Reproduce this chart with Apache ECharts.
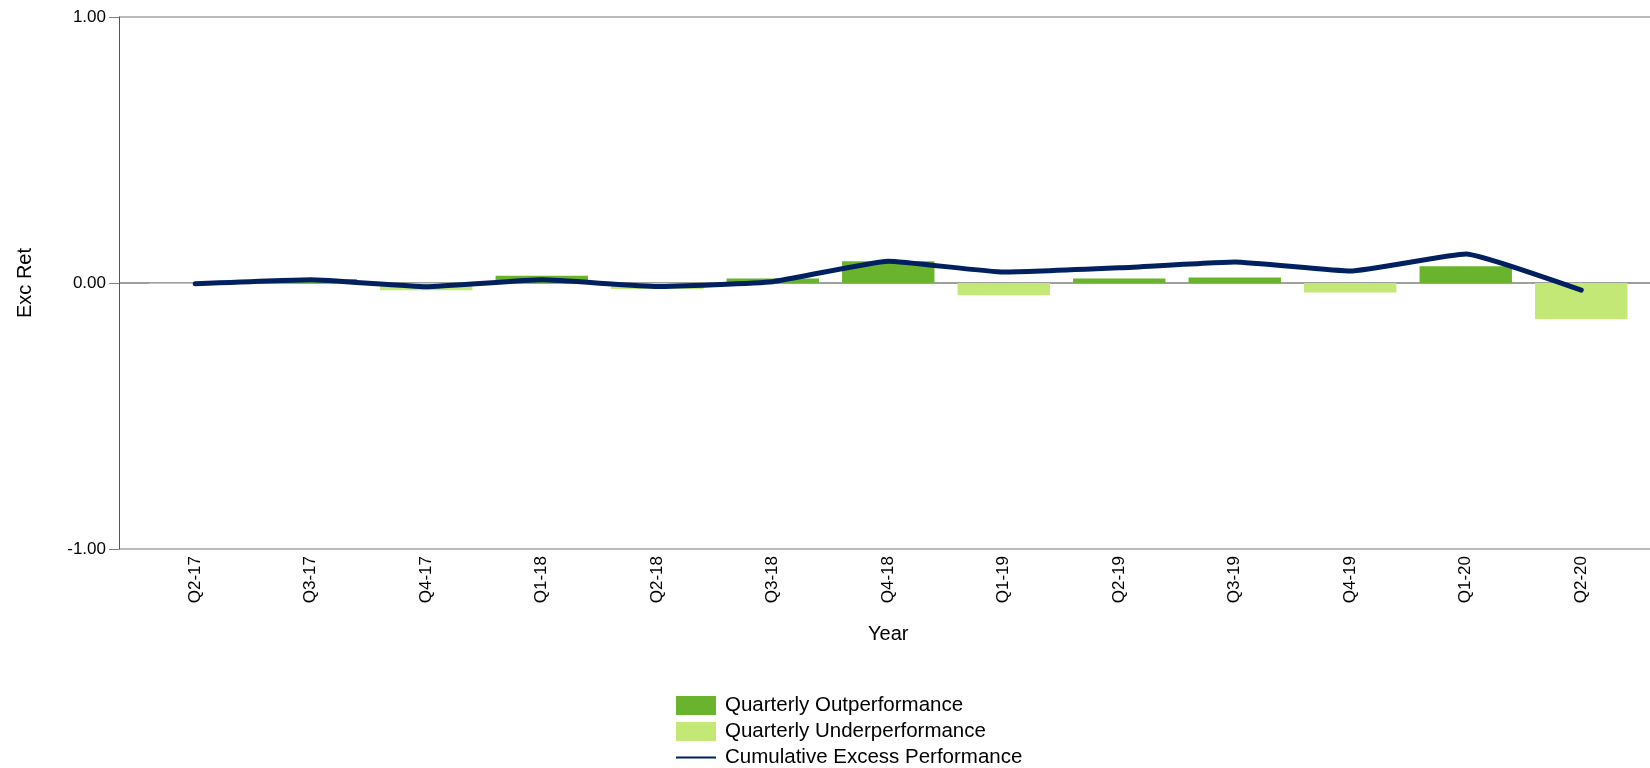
<!DOCTYPE html>
<html>
<head>
<meta charset="utf-8">
<script src="https://cdn.jsdelivr.net/npm/echarts@6/dist/echarts.min.js"></script>
<style>
html,body{margin:0;padding:0;background:#fff;}
#chart{width:1650px;height:768px;}
</style>
</head>
<body>
<div id="chart"></div>
<script>
const categories = ['Q2-17','Q3-17','Q4-17','Q1-18','Q2-18','Q3-18','Q4-18','Q1-19','Q2-19','Q3-19','Q4-19','Q1-20','Q2-20'];
const outperformance = [null, 0.015, null, 0.027, null, 0.017, 0.082, null, 0.017, 0.021, null, 0.063, null];
const underperformance = [-0.003, null, -0.027, null, -0.023, null, null, -0.046, null, null, -0.036, null, -0.135];
const cumulative = [-0.003, 0.012, -0.014, 0.012, -0.013, 0.005, 0.082, 0.041, 0.057, 0.079, 0.045, 0.109, -0.027];
const yTicks = [-1, 0, 1];

const FONT = '"Liberation Sans", Arial, sans-serif';
const chart = echarts.init(document.getElementById('chart'), null, {renderer: 'canvas'});
const toData = arr => arr.map(v => v === null ? '-' : v);

chart.setOption({
  animation: false,
  backgroundColor: '#ffffff',
  textStyle: {fontFamily: FONT, color: '#000'},
  grid: [
    {left: 119, right: 0, top: 17, bottom: 219, containLabel: false},
    {left: 137.5, right: 11, top: 17, bottom: 219, containLabel: false}
  ],
  xAxis: [
    {gridIndex: 0, type: 'value', min: 0, max: 1, show: false},
    {
      gridIndex: 1, type: 'category', data: categories, boundaryGap: true,
      axisLine: {show: false}, axisTick: {show: false},
      axisLabel: {rotate: 90, margin: 7, fontSize: 17, color: '#000', fontFamily: FONT, interval: 0},
      name: 'Year', nameLocation: 'middle', nameGap: 75,
      nameTextStyle: {fontSize: 20, color: '#000', fontFamily: FONT}
    }
  ],
  yAxis: [
    {
      gridIndex: 0, type: 'value', min: yTicks[0], max: yTicks[yTicks.length - 1], interval: 1,
      axisLine: {show: true, lineStyle: {color: '#555', width: 1}},
      axisTick: {show: true, length: 10, lineStyle: {color: '#808080'}},
      axisLabel: {margin: 13, fontSize: 17, color: '#000', fontFamily: FONT, formatter: v => v.toFixed(2)},
      splitLine: {show: true, lineStyle: {color: ['#a6a6a6', '#7f7f7f', '#a6a6a6'], width: 1.5}},
      name: 'Exc Ret', nameLocation: 'middle', nameGap: 84,
      nameTextStyle: {fontSize: 20, color: '#000', fontFamily: FONT}
    },
    {gridIndex: 1, type: 'value', min: -1, max: 1, show: false, splitLine: {show: false}}
  ],
  legend: {
    orient: 'vertical', left: 676, top: 695, height: 73, padding: 0,
    itemWidth: 40, itemHeight: 19, itemGap: 5,
    textStyle: {fontSize: 20.5, lineHeight: 20, color: '#000', fontFamily: FONT, padding: [0, 0, 0, 4]},
    data: [
      {name: 'Quarterly Outperformance', icon: 'rect'},
      {name: 'Quarterly Underperformance', icon: 'rect'},
      {name: 'Cumulative Excess Performance', icon: 'path://M0,0 L40,0 L40,2 L0,2 Z', itemStyle: {color: '#002060'}}
    ]
  },
  series: [
    {
      name: 'Quarterly Outperformance', type: 'bar', xAxisIndex: 1, yAxisIndex: 1,
      stack: 'q', barWidth: '80%', data: toData(outperformance),
      itemStyle: {color: '#6ab42d'}
    },
    {
      name: 'Quarterly Underperformance', type: 'bar', xAxisIndex: 1, yAxisIndex: 1,
      stack: 'q', barWidth: '80%', data: toData(underperformance),
      itemStyle: {color: '#c3e876'}
    },
    {
      name: 'Cumulative Excess Performance', type: 'line', xAxisIndex: 1, yAxisIndex: 1,
      data: cumulative, symbol: 'none', smooth: 0.12,
      lineStyle: {color: '#002060', width: 5, cap: 'round', join: 'round'},
      itemStyle: {color: '#002060'}, z: 5
    }
  ]
});
</script>
</body>
</html>
